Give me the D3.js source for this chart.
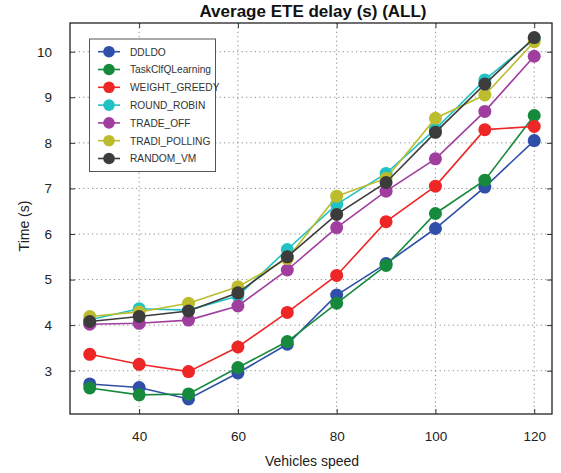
<!DOCTYPE html>
<html>
<head>
<meta charset="utf-8">
<script src="https://cdn.jsdelivr.net/npm/d3@7"></script>
<style>
  html, body { margin: 0; padding: 0; background: #fff; }
  svg { display: block; font-family: "Liberation Sans", Arial, sans-serif; }
</style>
</head>
<body>
<svg id="chart" width="561" height="473"></svg>
<script>
// Vehicle speeds on the x axis
const speeds = [30, 40, 50, 60, 70, 80, 90, 100, 110, 120];

// Average end-to-end delay (s) per scheduling method
const ddldo        = [2.71, 2.63, 2.38, 2.95, 3.58, 4.66, 5.35, 6.12, 7.03, 8.05];
const taskQL       = [2.62, 2.47, 2.49, 3.07, 3.64, 4.48, 5.31, 6.45, 7.18, 8.60];
const weightGreedy = [3.36, 3.14, 2.98, 3.52, 4.28, 5.09, 6.27, 7.05, 8.29, 8.36];
const roundRobin   = [4.12, 4.36, 4.33, 4.64, 5.66, 6.65, 7.33, 8.30, 9.38, 10.28];
const tradeOff     = [4.02, 4.04, 4.11, 4.42, 5.21, 6.14, 6.94, 7.65, 8.69, 9.90];
const tradiPolling = [4.19, 4.29, 4.48, 4.84, 5.46, 6.83, 7.22, 8.54, 9.05, 10.22];
const randomVM     = [4.08, 4.19, 4.31, 4.71, 5.50, 6.43, 7.13, 8.23, 9.29, 10.31];

const seriesNames  = ["DDLDO", "TaskClfQLearning", "WEIGHT_GREEDY", "ROUND_ROBIN", "TRADE_OFF", "TRADI_POLLING", "RANDOM_VM"];
const seriesValues = [ddldo, taskQL, weightGreedy, roundRobin, tradeOff, tradiPolling, randomVM];
const seriesColors = ["#2f4fa8", "#168a3c", "#ee2626", "#22c2c4", "#a03ea0", "#bcbc2e", "#3c3c3c"];

const xTicks = [40, 60, 80, 100, 120];
const yTicks = [3, 4, 5, 6, 7, 8, 9, 10];

const titleText = "Average ETE delay (s) (ALL)";
const xLabel = "Vehicles speed";
const yLabel = "Time (s)";

const svg = d3.select("#chart");
const plotL = 70, plotR = 552, plotT = 23, plotB = 414;

const x = d3.scaleLinear().domain([26, 123.6]).range([plotL, plotR]);
const y = d3.scaleLinear().domain([2.05, 10.63]).range([plotB, plotT]);

// dotted grid
const grid = svg.append("g").attr("stroke", "#8a8a8a").attr("stroke-width", 1)
  .attr("stroke-dasharray", "1.2,3.2");
grid.selectAll("line.vx").data(xTicks).join("line").attr("class", "vx")
  .attr("x1", d => x(d)).attr("x2", d => x(d)).attr("y1", plotT).attr("y2", plotB);
grid.selectAll("line.hy").data(yTicks).join("line").attr("class", "hy")
  .attr("x1", plotL).attr("x2", plotR).attr("y1", d => y(d)).attr("y2", d => y(d));

// axes with inward ticks on every side
const tickLen = 5;
const axB = svg.append("g").attr("transform", `translate(0,${plotB})`)
  .call(d3.axisBottom(x).tickValues(xTicks).tickSizeInner(-tickLen).tickSizeOuter(0).tickPadding(17));
const axT = svg.append("g").attr("transform", `translate(0,${plotT})`)
  .call(d3.axisTop(x).tickValues(xTicks).tickSizeInner(-tickLen).tickSizeOuter(0).tickFormat(""));
const axL = svg.append("g").attr("transform", `translate(${plotL},0)`)
  .call(d3.axisLeft(y).tickValues(yTicks).tickSizeInner(-tickLen).tickSizeOuter(0).tickPadding(18));
const axR = svg.append("g").attr("transform", `translate(${plotR},0)`)
  .call(d3.axisRight(y).tickValues(yTicks).tickSizeInner(-tickLen).tickSizeOuter(0).tickFormat(""));
[axB, axT, axL, axR].forEach(a => {
  a.select(".domain").remove();
  a.selectAll(".tick line").attr("stroke", "#333");
  a.selectAll("text").attr("font-size", "13.5px").attr("fill", "#222")
    .attr("font-family", "'Liberation Sans', Arial, sans-serif");
});

// series lines and markers
const line = d3.line().x((d, i) => x(speeds[i])).y(d => y(d));
seriesValues.forEach((vals, k) => {
  const g = svg.append("g");
  g.append("path").datum(vals).attr("d", line)
    .attr("fill", "none").attr("stroke", seriesColors[k]).attr("stroke-width", 1.6);
  g.selectAll("circle").data(vals).join("circle")
    .attr("cx", (d, i) => x(speeds[i])).attr("cy", d => y(d)).attr("r", 6.5)
    .attr("fill", seriesColors[k]);
});

// plot frame
svg.append("rect").attr("x", plotL).attr("y", plotT)
  .attr("width", plotR - plotL).attr("height", plotB - plotT)
  .attr("fill", "none").attr("stroke", "#222").attr("stroke-width", 1.3);

// legend
const lg = svg.append("g");
lg.append("rect").attr("x", 89.5).attr("y", 39).attr("width", 126).attr("height", 132.5)
  .attr("fill", "#fff").attr("stroke", "#555").attr("stroke-width", 1);
seriesNames.forEach((name, k) => {
  const cy = 51.7 + k * 17.8;
  lg.append("line").attr("x1", 98).attr("x2", 120).attr("y1", cy).attr("y2", cy)
    .attr("stroke", seriesColors[k]).attr("stroke-width", 1.6);
  lg.append("circle").attr("cx", 109).attr("cy", cy).attr("r", 5.8).attr("fill", seriesColors[k]);
  lg.append("text").attr("x", 130).attr("y", cy + 3.8).attr("font-size", "10.2px")
    .attr("fill", "#333").text(name);
});

// titles
svg.append("text").attr("x", 313).attr("y", 17).attr("text-anchor", "middle")
  .attr("font-size", "17px").attr("font-weight", "bold").attr("fill", "#111").text(titleText);
svg.append("text").attr("x", 312).attr("y", 466).attr("text-anchor", "middle")
  .attr("font-size", "14px").attr("fill", "#222").text(xLabel);
svg.append("text").attr("transform", "translate(29,226) rotate(-90)").attr("text-anchor", "middle")
  .attr("font-size", "14px").attr("fill", "#222").text(yLabel);
</script>
</body>
</html>
